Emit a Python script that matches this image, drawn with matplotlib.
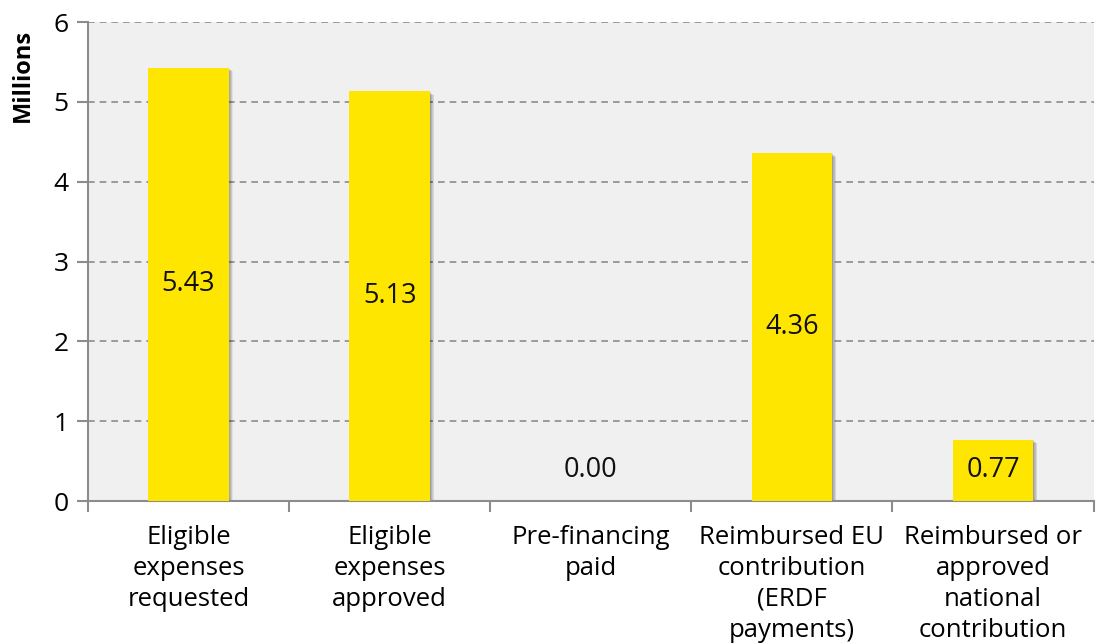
import matplotlib.pyplot as plt
import numpy as np

categories = ["Eligible\nexpenses\nrequested", "Eligible\nexpenses\napproved",
              "Pre-financing\npaid", "Reimbursed EU\ncontribution\n(ERDF\npayments)",
              "Reimbursed or\napproved\nnational\ncontribution"]
values = [5.43, 5.13, 0.00, 4.36, 0.77]

plt.rcParams['font.family'] = ['Open Sans', 'DejaVu Sans']

fig = plt.figure(figsize=(10.96, 6.44), dpi=100)
ax = fig.add_axes([0.0803, 0.222, 0.9175, 0.7438])
ax.set_facecolor("#f0f0f0")

x = np.arange(len(values))
w = 0.4

# soft shadow to the lower right of each bar
for k in range(1, 8):
    d = k * 0.003
    ax.bar(x + d, np.array(values), width=w, bottom=-d * 2.2, color="black",
           alpha=0.055, linewidth=0, zorder=2)

ax.bar(x, values, width=w, color="#ffe600", linewidth=0, zorder=3)

for i, v in enumerate(values):
    ly = v / 2 if v > 0 else min([u for u in values if u > 0]) / 2
    ax.text(i, ly, f"{v:.2f}", ha="center", va="center", fontsize=19.5, color="#111111", zorder=4)

ax.set_xlim(-0.5, 4.5)
ax.set_ylim(0, 6)
ax.set_yticks(range(0, 7))
ax.yaxis.grid(True, linestyle=(0, (4, 3)), color="#8c8c8c", linewidth=1.2, zorder=0)
ax.set_axisbelow(True)

ax.set_xticks(x)
ax.set_xticklabels(categories, fontsize=18.5, linespacing=1.32)
ax.tick_params(axis="x", length=0, pad=17)
ax.set_xticks(np.arange(-0.5, 5, 1), minor=True)
ax.tick_params(axis="x", which="minor", length=8, width=1.5, color="#8c8c8c")
ax.tick_params(axis="y", length=8, width=1.5, color="#8c8c8c", labelsize=19, pad=6)

for s in ["top", "right"]:
    ax.spines[s].set_visible(False)
for s in ["left", "bottom"]:
    ax.spines[s].set_color("#8c8c8c")
    ax.spines[s].set_linewidth(1.5)

ax.set_ylabel("Millions", fontsize=17, fontweight="bold", loc="top")
ax.yaxis.set_label_coords(-0.053, 0.985)

fig.savefig("out.png", dpi=100)
